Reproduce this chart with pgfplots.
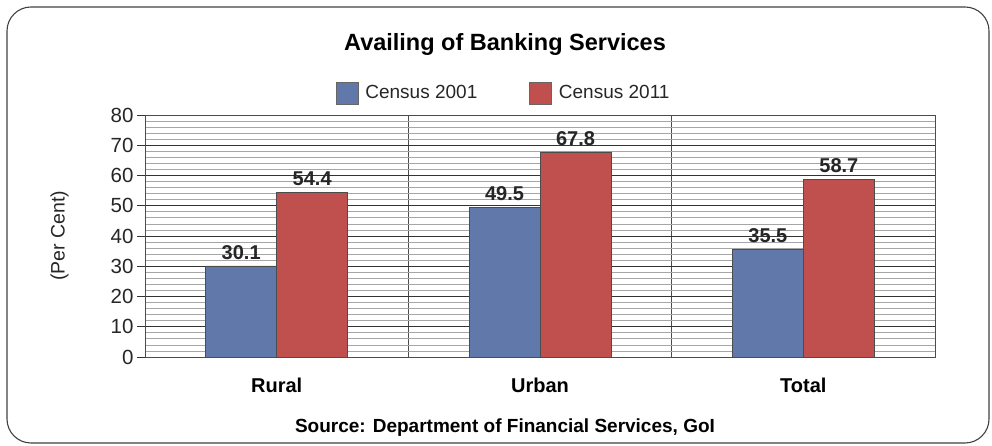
\documentclass[border=0pt]{standalone}
\usepackage{pgfplots}
\pgfplotsset{compat=1.18}
\usepackage{fontspec}
\setmainfont{Liberation Sans}
\definecolor{cblue}{HTML}{6079AA}
\definecolor{cred}{HTML}{C0504D}
\begin{document}
\begin{tikzpicture}[x=1pt,y=1pt]
\path (0,0) rectangle (992,446);
\draw[black!75, line width=1.1pt, rounded corners=24pt] (7,3) rectangle (989,439);
\node[font=\bfseries\fontsize{23.5}{28}\selectfont] at (505,402) {Availing of Banking Services};
\node[font=\bfseries\fontsize{19}{22}\selectfont] at (505,18) {Source: Department of Financial Services, GoI};
\begin{axis}[
  at={(145pt,89pt)}, anchor=south west,
  scale only axis, width=790pt, height=242pt,
  ybar=0pt, bar width=71pt,
  xmin=-0.5, xmax=2.5, ymin=0, ymax=80,
  xtick={0,1,2}, xticklabels={Rural,Urban,Total},
  x tick label style={font=\bfseries\fontsize{20}{24}\selectfont, yshift=-9pt},
  xtick style={draw=none},
  minor xtick={0.5,1.5}, xminorgrids=true,
  minor x grid style={black!70, line width=0.6pt},
  minor x tick style={draw=none},
  ytick={0,10,...,80}, minor y tick num=4,
  ymajorgrids=true, yminorgrids=true,
  major y grid style={black!80, line width=0.7pt},
  minor y grid style={black!35, line width=0.7pt},
  y tick label style={font=\fontsize{20.5}{24}\selectfont, black!85},
  /pgf/number format/assume math mode=true,
  ytick style={black!80, line width=0.7pt},
  minor y tick style={draw=none},
  major tick length=8pt,
  tick align=outside, tick pos=left,
  axis line style={black!70, line width=0.8pt},
  ylabel={(Per Cent)},
  ylabel style={font=\fontsize{19.5}{23}\selectfont, black!85, at={(axis description cs:-0.108,0.5)}, anchor=center},
  nodes near coords,
  every node near coord/.append style={font=\bfseries\fontsize{20}{24}\selectfont, black!85, yshift=3pt},
  legend columns=2,
  legend style={at={(axis description cs:0.454,1.091)}, anchor=center, draw=none, fill=none,
    font=\fontsize{19}{22}\selectfont, text=black!85,
    /tikz/every odd column/.append style={column sep=5pt},
    /tikz/every even column/.append style={column sep=50pt}},
  legend image code/.code={\draw[#1, draw=black!60] (-10pt,-11pt) rectangle (12pt,11pt);},
]
\addplot[fill=cblue, draw=black!70, line width=0.6pt] coordinates {(0,30.1) (1,49.5) (2,35.5)};
\addplot[fill=cred, draw=black!70, line width=0.6pt] coordinates {(0,54.4) (1,67.8) (2,58.7)};
\legend{Census 2001, Census 2011}
\end{axis}
\end{tikzpicture}
\end{document}
